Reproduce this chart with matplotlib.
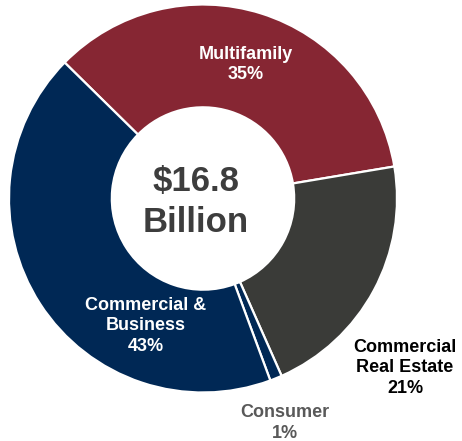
import matplotlib
matplotlib.use("Agg")
import matplotlib.pyplot as plt

plt.rcParams['font.family'] = ['Liberation Sans', 'DejaVu Sans']

categories = ["Multifamily", "Commercial Real Estate", "Consumer", "Commercial & Business"]
shares = [35, 21, 1, 43]
colors = ["#862633", "#3a3b38", "#002855", "#002855"]
total_label = "$16.8\nBillion"

W, H = 462, 441
fig = plt.figure(figsize=(W / 100, H / 100), dpi=100)
ax = fig.add_axes([0, 0, 1, 1])

cx, cy, R = 203, H - 198.5, 194
ax.pie(shares, colors=colors, startangle=135.5, counterclock=False,
       radius=R, center=(cx, cy),
       wedgeprops=dict(width=R * 0.53, edgecolor="white", linewidth=1.6))
ax.set_xlim(0, W)
ax.set_ylim(0, H)
ax.set_aspect("equal")
ax.axis("off")

ax.text(196, H - 202, total_label, ha="center", va="center", fontsize=25,
        fontweight="bold", color="#3d3d3d", linespacing=1.3)

lab = dict(ha="center", va="center", fontsize=13, fontweight="bold", linespacing=1.28)
ax.text(246, H - 64.5, f"{categories[0]}\n{shares[0]}%", color="white", **lab)
ax.text(146, H - 326, f"Commercial &\nBusiness\n{shares[3]}%", color="white", **lab)
ax.text(405, H - 368, f"Commercial\nReal Estate\n{shares[1]}%", color="black", **lab)
ax.text(285, H - 423, f"{categories[2]}\n{shares[2]}%", color="#595959", **lab)

fig.savefig("out.png", dpi=100, facecolor="white")
